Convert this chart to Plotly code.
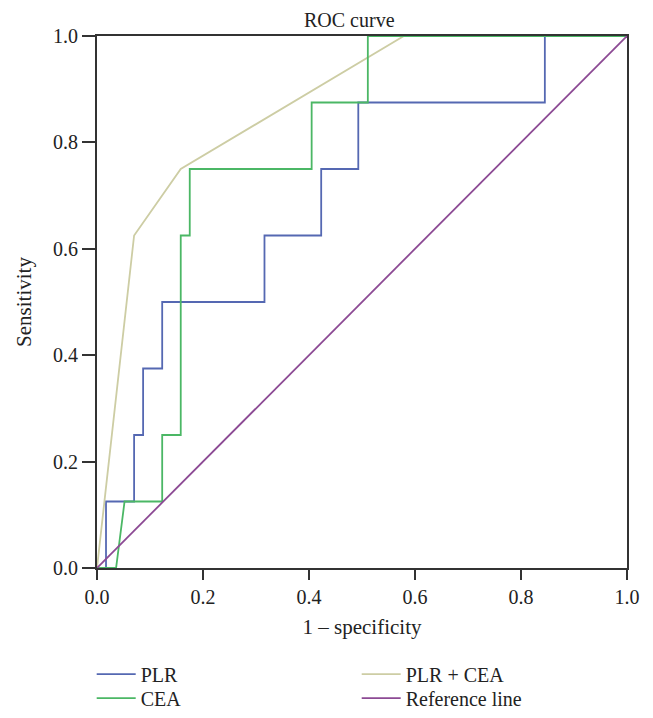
import plotly.graph_objects as go

# Data (1 - specificity, sensitivity)
plr_x = [0.0, 0.017, 0.017, 0.070, 0.070, 0.087, 0.087, 0.123, 0.123, 0.316, 0.316, 0.423, 0.423, 0.493, 0.493, 0.845, 0.845, 1.0]
plr_y = [0.0, 0.0, 0.125, 0.125, 0.25, 0.25, 0.375, 0.375, 0.5, 0.5, 0.625, 0.625, 0.75, 0.75, 0.875, 0.875, 1.0, 1.0]

cea_x = [0.0, 0.036, 0.052, 0.123, 0.123, 0.158, 0.158, 0.175, 0.175, 0.405, 0.405, 0.511, 0.511, 1.0]
cea_y = [0.0, 0.0, 0.125, 0.125, 0.25, 0.25, 0.625, 0.625, 0.75, 0.75, 0.875, 0.875, 1.0, 1.0]

comb_x = [0.0, 0.070, 0.158, 0.579, 1.0]
comb_y = [0.0, 0.625, 0.75, 1.0, 1.0]

ref_x = [0.0, 1.0]
ref_y = [0.0, 1.0]

tick_vals = [0.0, 0.2, 0.4, 0.6, 0.8, 1.0]
tick_text = ["0.0", "0.2", "0.4", "0.6", "0.8", "1.0"]

FONT = "Liberation Serif"

fig = go.Figure()
fig.add_trace(go.Scatter(x=plr_x, y=plr_y, mode="lines", name="PLR", legend="legend",
                         line=dict(color="#5568b2", width=1.8)))
fig.add_trace(go.Scatter(x=comb_x, y=comb_y, mode="lines", name="PLR + CEA", legend="legend",
                         line=dict(color="#cdcda4", width=1.8)))
fig.add_trace(go.Scatter(x=cea_x, y=cea_y, mode="lines", name="CEA", legend="legend2",
                         line=dict(color="#4bb765", width=1.8)))
fig.add_trace(go.Scatter(x=ref_x, y=ref_y, mode="lines", name="Reference line", legend="legend2",
                         line=dict(color="#8c4a94", width=1.8)))

axis_common = dict(
    range=[0, 1], tickvals=tick_vals, ticktext=tick_text,
    showgrid=False, zeroline=False, showline=True, linecolor="#333333", linewidth=2,
    mirror=True, ticks="outside", tickwidth=1.5, tickcolor="#333333",
    tickfont=dict(family=FONT, size=20, color="#222"),
)

legend_common = dict(orientation="h", x=-0.01, xanchor="left", yanchor="top",
                     entrywidth=211, entrywidthmode="pixels",
                     font=dict(family=FONT, size=20, color="#222"),
                     tracegroupgap=0, itemwidth=39, bgcolor="rgba(0,0,0,0)")

fig.update_layout(
    width=645, height=710,
    margin=dict(l=89, r=26, t=28, b=150, autoexpand=False),
    paper_bgcolor="white", plot_bgcolor="white",
    font=dict(family=FONT, size=20, color="#222"),
    xaxis=dict(**axis_common, ticklen=10,
               title=dict(text="1 – specificity", font=dict(family=FONT, size=21), standoff=12)),
    yaxis=dict(**axis_common, ticklen=13,
               title=dict(text="Sensitivity", font=dict(family=FONT, size=21), standoff=16)),
    showlegend=True,
    legend=dict(**legend_common, y=-0.163),
    legend2=dict(**legend_common, y=-0.208),
    annotations=[dict(text="ROC curve", x=0.477, y=1.0, xref="paper", yref="paper",
                      xanchor="center", yanchor="bottom", yshift=3, showarrow=False,
                      font=dict(family=FONT, size=20, color="#222"))],
)

fig.write_html("out.html")
